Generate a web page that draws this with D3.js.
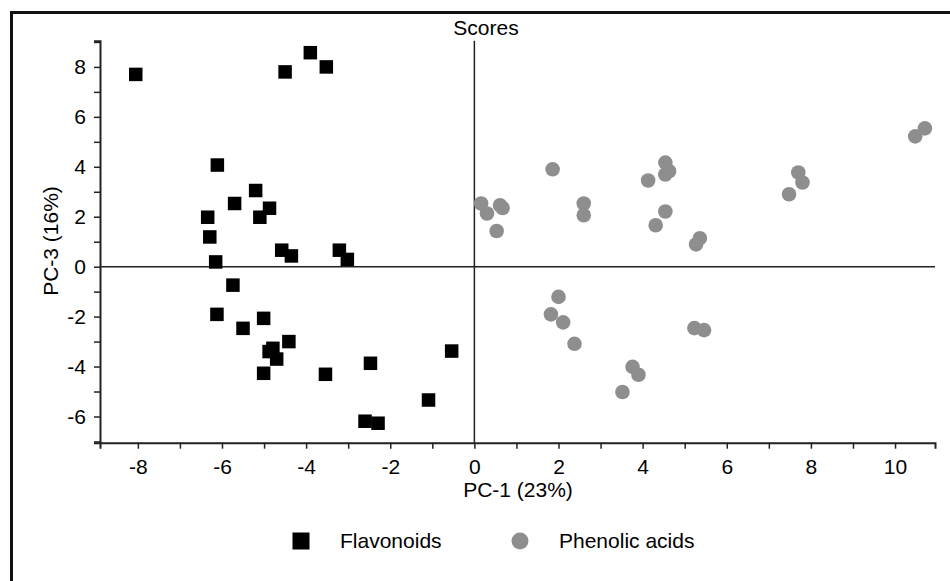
<!DOCTYPE html>
<html>
<head>
<meta charset="utf-8">
<script src="https://cdn.jsdelivr.net/npm/d3@7"></script>
<style>
  body { margin: 0; background: #fff; }
  svg { font-family: "Liberation Sans", Arial, sans-serif; }
</style>
</head>
<body>
<svg id="plot1" style="width:950px;height:581px"></svg>
<script>
// Flavonoids (squares)
var flavX = [-8.05, -4.5, -3.9, -3.52, -6.11, -5.2, -5.7, -4.87, -5.1, -6.34, -6.29, -6.15, -4.58, -4.35, -3.21, -3.02,
             -5.74, -6.12, -5.01, -5.5, -4.41, -4.79, -4.88, -4.7, -5.01, -3.54, -2.47, -0.54, -1.09, -2.6, -2.29];
var flavY = [7.7, 7.8, 8.57, 8.0, 4.07, 3.05, 2.53, 2.34, 1.98, 1.98, 1.19, 0.19, 0.66, 0.43, 0.66, 0.29,
             -0.74, -1.91, -2.07, -2.47, -3.0, -3.27, -3.4, -3.7, -4.27, -4.31, -3.87, -3.38, -5.34, -6.19, -6.27];

// Phenolic acids (circles)
var phenX = [0.16, 0.3, 0.61, 0.67, 0.53, 1.86, 2.6, 2.6, 4.13, 4.54, 4.63, 4.54, 4.54, 4.31, 5.36, 5.27, 7.7, 7.8, 7.48, 10.48, 10.71,
             2.0, 1.82, 2.11, 2.38, 3.76, 3.9, 3.52, 5.23, 5.46];
var phenY = [2.53, 2.13, 2.46, 2.35, 1.43, 3.9, 2.53, 2.06, 3.45, 4.17, 3.83, 3.69, 2.21, 1.66, 1.14, 0.89, 3.77, 3.37, 2.9, 5.22, 5.54,
             -1.21, -1.91, -2.23, -3.09, -4.01, -4.33, -5.02, -2.46, -2.54];

var xTicks = d3.range(-8, 11);
var yTicks = d3.range(-7, 10);
var seriesNames = ["Flavonoids", "Phenolic acids"];

function makeChart(){
    var svg = d3.select("#plot1");

    // outer frame (only top and left edges are visible in the picture)
    svg.append("rect")
        .attr("x", 11.5).attr("y", 12.5)
        .attr("width", 1200).attr("height", 1000)
        .attr("fill", "none")
        .attr("stroke", "#111")
        .attr("stroke-width", 3);

    var xScale = d3.scaleLinear().domain([-8.9, 10.95]).range([100, 935]);
    var yScale = d3.scaleLinear().domain([-7.05, 9.05]).range([442.7, 40.7]);

    var evenOnly = function(d){ return d % 2 === 0 ? d : ""; };

    var gx = svg.append("g")
        .attr("transform", "translate(0," + yScale(-7.05) + ")")
        .call(d3.axisBottom(xScale).tickValues(xTicks).tickFormat(evenOnly)
              .tickSizeOuter(0).tickSize(6).tickPadding(10));

    var gy = svg.append("g")
        .attr("transform", "translate(" + xScale(-8.9) + ",0)")
        .call(d3.axisLeft(yScale).tickValues(yTicks).tickFormat(evenOnly)
              .tickSizeOuter(0).tickSize(6).tickPadding(8));

    [gx, gy].forEach(function(g){
        g.select(".domain").attr("stroke", "#222").attr("stroke-width", 2);
        g.selectAll(".tick line").attr("stroke", "#222").attr("stroke-width", 1.5);
        g.selectAll(".tick text").attr("fill", "#000").style("font-size", "21px")
            .style("font-family", "'Liberation Sans', Arial, sans-serif");
    });

    // zero lines
    svg.append("line")
        .attr("x1", xScale(-8.9)).attr("x2", xScale(10.95))
        .attr("y1", yScale(0)).attr("y2", yScale(0))
        .attr("stroke", "#222").attr("stroke-width", 1.5);
    svg.append("line")
        .attr("x1", xScale(0)).attr("x2", xScale(0))
        .attr("y1", yScale(9.05)).attr("y2", yScale(-7.05))
        .attr("stroke", "#222").attr("stroke-width", 1.5);

    var flav = flavX.map(function(x, i){ return {x: x, y: flavY[i]}; });
    var phen = phenX.map(function(x, i){ return {x: x, y: phenY[i]}; });

    var side = 13.5;
    svg.append("g").selectAll("rect")
        .data(flav)
        .enter()
        .append("rect")
        .attr("x", function(d){ return xScale(d.x) - side / 2; })
        .attr("y", function(d){ return yScale(d.y) - side / 2; })
        .attr("width", side).attr("height", side)
        .attr("fill", "#000");

    svg.append("g").selectAll("circle")
        .data(phen)
        .enter()
        .append("circle")
        .attr("cx", function(d){ return xScale(d.x); })
        .attr("cy", function(d){ return yScale(d.y); })
        .attr("r", 7.3)
        .attr("fill", "#8e8e8e");

    // title and axis labels
    svg.append("text")
        .attr("x", 486).attr("y", 35)
        .attr("text-anchor", "middle")
        .style("font-size", "21px")
        .text("Scores");

    svg.append("text")
        .attr("x", 518).attr("y", 497)
        .attr("text-anchor", "middle")
        .style("font-size", "21px")
        .text("PC-1 (23%)");

    svg.append("text")
        .attr("transform", "translate(58,241) rotate(-90)")
        .attr("text-anchor", "middle")
        .style("font-size", "21px")
        .text("PC-3 (16%)");

    // legend
    var legend = svg.append("g");
    legend.append("rect")
        .attr("x", 292.5).attr("y", 532.5)
        .attr("width", 17).attr("height", 17)
        .attr("fill", "#000");
    legend.append("text")
        .attr("x", 340).attr("y", 548)
        .style("font-size", "21px")
        .text(seriesNames[0]);
    legend.append("circle")
        .attr("cx", 520).attr("cy", 541)
        .attr("r", 8.5)
        .attr("fill", "#8e8e8e");
    legend.append("text")
        .attr("x", 559).attr("y", 548)
        .style("font-size", "21px")
        .text(seriesNames[1]);
}

makeChart();
</script>
</body>
</html>
